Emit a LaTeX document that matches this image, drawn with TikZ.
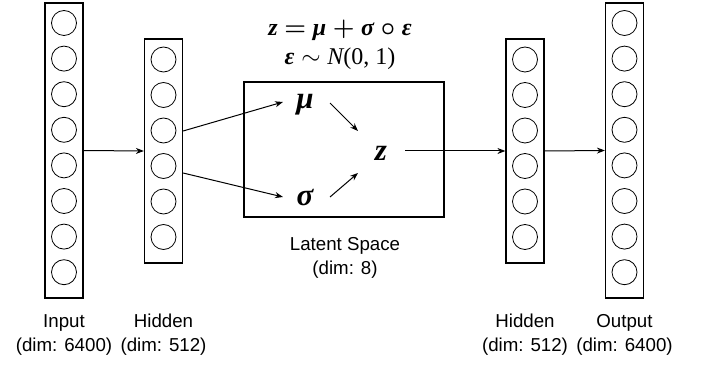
\documentclass[tikz,border=0pt]{standalone}
\usepackage{amsmath,bm}
\usepackage{fontspec}
\setmainfont{Liberation Sans}
\newfontfamily\serfam{Liberation Serif}
\newcommand{\bitl}{\serfam\bfseries\itshape}
\usetikzlibrary{arrows.meta}
\begin{document}
\begin{tikzpicture}[x=1pt,y=-1pt]
\useasboundingbox[fill=white] (0,0) rectangle (704,366);
\tikzset{
  layerbox/.style={draw, line width=1.2pt, minimum width=38pt, inner sep=0pt},
  neuron/.style={draw, circle, minimum size=25pt, inner sep=0pt, line width=0.8pt},
  conn/.style={-{Stealth[length=8pt,width=6pt]}, line width=1pt},
  lbl/.style={font=\fontsize{18.7}{24}\selectfont, align=center, inner sep=0pt},
  mth/.style={font=\fontsize{24}{29}\selectfont, align=center, inner sep=0pt},
  sym/.style={font=\fontsize{31}{34}\bitl, inner sep=0pt}
}
% layers
\node[layerbox, minimum height=295pt] (in) at (64,150.5) {};
\foreach \i in {0,...,7} \node[neuron] (in\i) at (64,23+\i*35.6) {};
\node[layerbox, minimum height=224pt] (h1) at (163.5,151) {};
\foreach \i in {0,...,5} \node[neuron] (ha\i) at (163.5,59.5+\i*35.5) {};
\node[layerbox, minimum height=224pt] (h2) at (525,151) {};
\foreach \i in {0,...,5} \node[neuron] (hb\i) at (525,59.5+\i*35.5) {};
\node[layerbox, minimum height=295pt] (out) at (624.5,150.5) {};
\foreach \i in {0,...,7} \node[neuron] (out\i) at (624.5,23+\i*35.6) {};
% latent
\node[draw, line width=1.2pt, minimum width=200pt, minimum height=135pt, inner sep=0pt] (lat) at (344,149.5) {};
\node[sym] (mu) at (305,105) {μ};
\node[sym] (sg) at (305,198) {σ};
\node[sym] (z) at (381,153) {z};
\node[mth] (eq) at (340,45) {{\bitl z} $\bm{=}$ {\bitl μ} $\bm{+}$ {\bitl σ} $\bm{\circ}$ {\bitl ε}\\{\bitl ε} $\sim$ {\serfam\itshape N}{\serfam(0, 1)}};
% labels
\node[lbl] (lin) at (64,335) {Input\\(dim: 6400)};
\node[lbl] (lh1) at (163.5,335) {Hidden\\(dim: 512)};
\node[lbl] (llat) at (345,258) {Latent Space\\(dim: 8)};
\node[lbl] (lh2) at (525,335) {Hidden\\(dim: 512)};
\node[lbl] (lout) at (624.5,335) {Output\\(dim: 6400)};
% connectors
\draw[conn] (in.east) -- (h1.west);
\draw[conn] ([yshift=20pt]h1.east) -- ([xshift=-22pt,yshift=3pt]mu.center);
\draw[conn] ([yshift=-22pt]h1.east) -- ([xshift=-22pt,yshift=1pt]sg.center);
\draw[conn] ([xshift=25pt,yshift=2pt]mu.center) -- ([xshift=-23pt,yshift=22pt]z.center);
\draw[conn] ([xshift=25pt,yshift=1pt]sg.center) -- ([xshift=-23pt,yshift=-20pt]z.center);
\draw[conn] ([xshift=24pt,yshift=2pt]z.center) -- (h2.west);
\draw[conn] (h2.east) -- (out.west);
\end{tikzpicture}
\end{document}
